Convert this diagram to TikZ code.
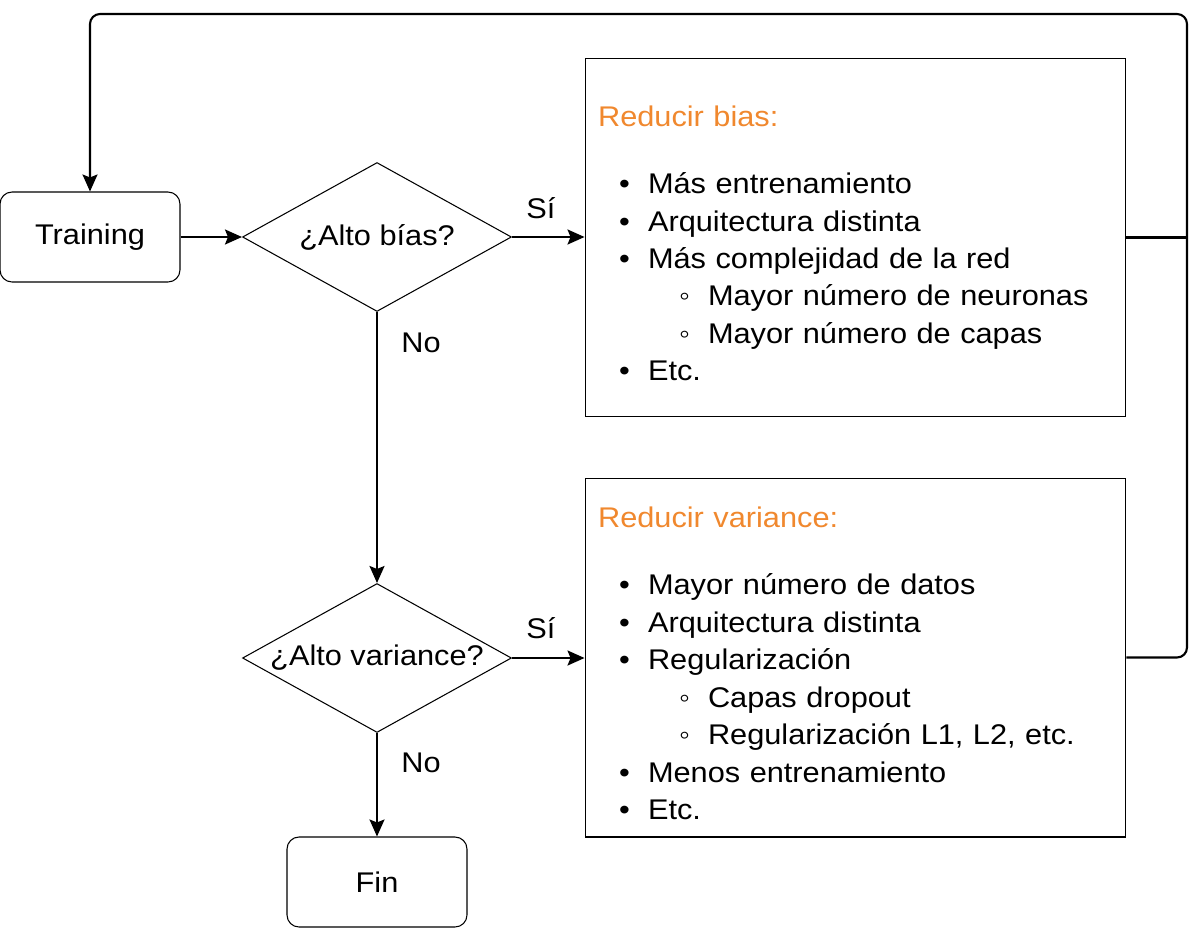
\documentclass[tikz,border=0pt]{standalone}
\usepackage{fontspec}
\setmainfont[FakeStretch=1.08]{Liberation Sans}
\usepackage{tikz}
\usetikzlibrary{arrows.meta}
\usetikzlibrary{shapes.geometric}
\definecolor{naranja}{HTML}{F0882E}
\newcommand{\texto}{\fontsize{16.2}{21.3}\selectfont}
\newcommand{\itm}[1]{\hspace*{0.42cm}\makebox[0.58cm][l]{•}#1}
\newcommand{\subitm}[1]{\hspace*{1.62cm}\makebox[0.58cm][l]{◦}#1}

\begin{document}
\begin{tikzpicture}[x=0.02cm, y=-0.02cm, line width=0.6pt, font=\texto,
    inicio/.style={draw, rounded corners=0.24cm, minimum width=3.6cm, minimum height=1.8cm},
    decision/.style={draw, diamond, minimum width=5.38cm, minimum height=2.98cm, inner sep=0pt},
    lista/.style={draw, rectangle, minimum width=10.82cm, minimum height=7.18cm, text width=10.3cm, align=left, inner xsep=0.26cm},
    flecha/.style={-{Stealth[length=0.34cm, width=0.3cm, inset=0.06cm]}, line width=1.2pt},
    linea/.style={line width=1.2pt}]
        \useasboundingbox (0,0) rectangle (1202,929);

        % Bloques principales
        \node[inicio] (train) at (90,237) {\raisebox{-1.2pt}{Training}};
        \node[decision] (q1) at (377,237) {\makebox[0pt]{¿Alto bías?}};
        \node[decision] (q2) at (377,658) {\makebox[0pt]{¿Alto variance?}};
        \node[inicio] (fin) at (377,882) {Fin};

        % Cajas de acciones
        \node[lista] (b1) at (855.5,237.5) {\rule{0pt}{18.6pt}\textcolor{naranja}{Reducir bias:}\\[16.9pt]
            \itm{Más entrenamiento}\\
            \itm{Arquitectura distinta}\\
            \itm{Más complejidad de la red}\\
            \subitm{Mayor número de neuronas}\\
            \subitm{Mayor número de capas}\\
            \itm{Etc.}};
        \node[lista] (b2) at (855.5,657.5) {\rule{0pt}{18.6pt}\textcolor{naranja}{Reducir variance:}\\[16.9pt]
            \itm{Mayor número de datos}\\
            \itm{Arquitectura distinta}\\
            \itm{Regularización}\\
            \subitm{Capas dropout}\\
            \subitm{Regularización L1, L2, etc.}\\
            \itm{Menos entrenamiento}\\
            \itm{Etc.}};

        % Etiquetas
        \node (si1) at (541,208) {Sí};
        \node (no1) at (421,343) {No};
        \node (si2) at (541,628) {Sí};
        \node (no2) at (421,763) {No};

        % Conexiones
        \draw[flecha] (train) -- (q1);
        \draw[flecha] (q1.east) -- (q1.east -| b1.west);
        \draw[flecha] (q1) -- (q2);
        \draw[flecha] (q2.east) -- (q2.east -| b2.west);
        \draw[flecha] (q2) -- (fin);

        % Vuelta al entrenamiento
        \coordinate (esq) at (1187,14);
        \draw[linea] (b1.east) -- (b1.east -| esq);
        \draw[flecha, rounded corners=0.2cm] (b2.east) -| (esq) -| (train.north);
    \end{tikzpicture}
\end{document}
